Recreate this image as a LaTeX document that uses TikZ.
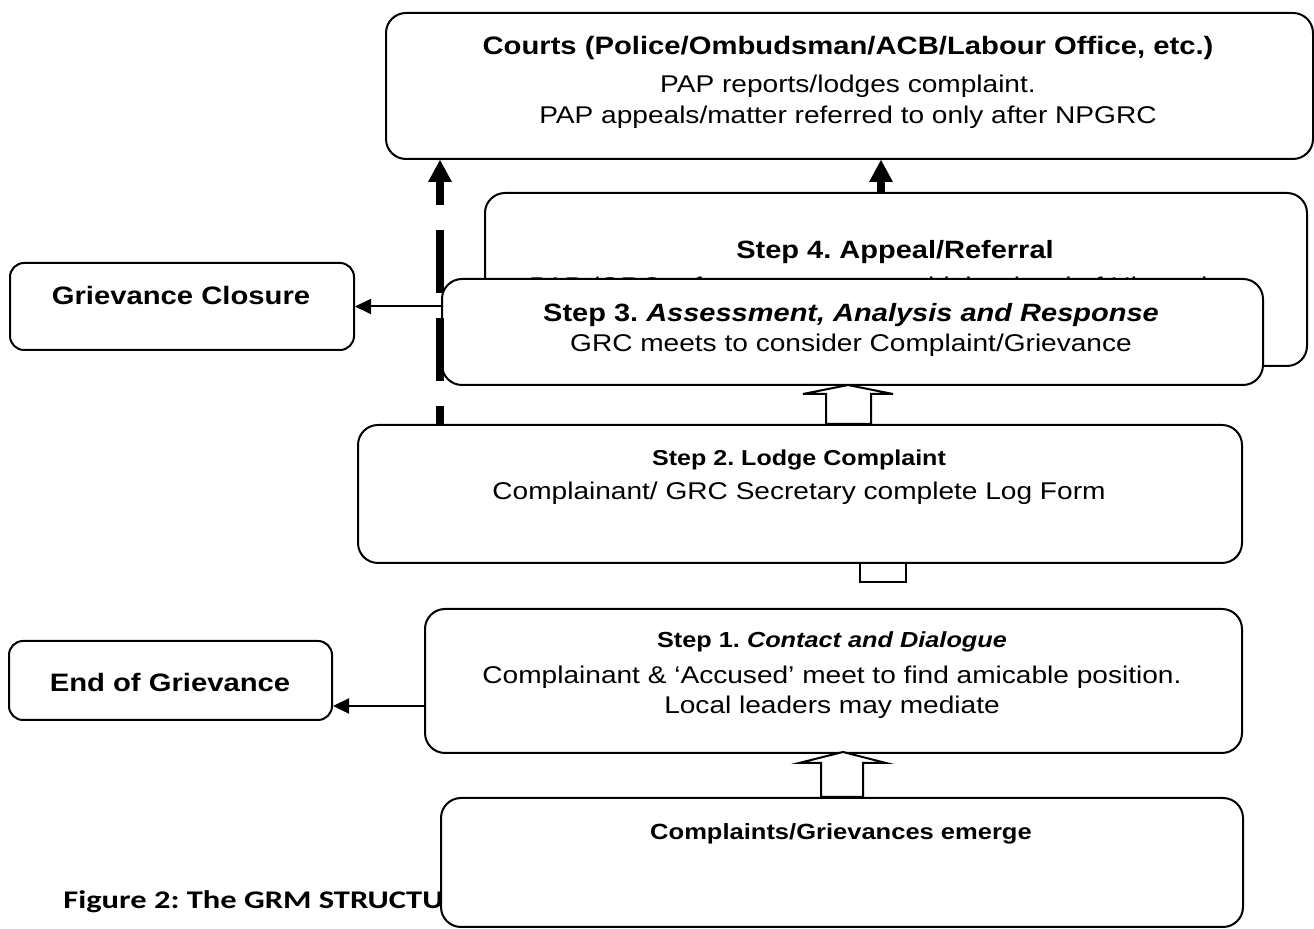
\documentclass[tikz,border=0pt]{standalone}
\usepackage{fontspec}
\setmainfont[FakeStretch=1.16]{Liberation Sans}
\newfontfamily\capfont[FakeStretch=1.28]{Carlito}
\usetikzlibrary{arrows.meta,calc}
\frenchspacing

\newcommand{\fs}[1]{\fontsize{#1}{#1}\selectfont}

\tikzset{
  box/.style={draw, line width=1pt, fill=white, rounded corners=10pt,
    inner sep=0pt, anchor=north west},
  smallbox/.style={box, rounded corners=7pt},
  ttl/.style={font=\fs{12.5}\bfseries, anchor=base, inner sep=0pt},
  txt/.style={font=\fs{12.1}, anchor=base, inner sep=0pt},
  thinarrow/.style={line width=1pt, -{Triangle[length=8pt,width=7.5pt]}},
  thickarrow/.style={line width=4pt, -{Triangle[length=11pt,width=12pt,line width=0pt]}},
  dasharrow/.style={thickarrow, dash pattern=on 31.5pt off 12.5pt, dash phase=22.5pt},
  blockarrow/.style={draw, line width=1pt, fill=white, line join=miter},
}

\begin{document}
\begin{tikzpicture}[x=0.5pt, y=-0.5pt]
\useasboundingbox (0,0) rectangle (1314,929);

% caption, partly hidden by the bottom box
\node[font=\capfont\fs{12.7}\bfseries, anchor=base west, inner sep=0pt]
  (caption) at (63,909) {Figure 2: The GRM STRUCTURE};

% top level: courts
\node[box, minimum width=463.5pt, minimum height=73pt] (courts) at (385,12) {};
\node[ttl, font=\fs{12.6}\bfseries] (courtsT) at (848,55) {Courts (Police/Ombudsman/ACB/Labour Office, etc.)};
\node[txt] (courtsA) at (848,93) {PAP reports/lodges complaint.};
\node[txt] (courtsB) at (848,124) {PAP appeals/matter referred to only after NPGRC};

% step 4 (second line mostly hidden behind step 3)
\node[box, minimum width=411pt, minimum height=86.5pt] (step4) at (484,192) {};
\node[ttl] (step4T) at (895,259) {Step 4. Appeal/Referral};
\node[txt] (step4A) at (880,295) {PAP /GRC refers matter to next higher level of Hierarchy};

% step 3 (overlaps step 4)
\node[box, minimum width=410.5pt, minimum height=53pt] (step3) at (441,278) {};
\node[ttl] (step3T) at (851,322) {Step 3. \textit{Assessment, Analysis and Response}};
\node[txt] (step3A) at (851,352) {GRC meets to consider Complaint/Grievance};

% block arrow step 1 -> step 2 (head hidden behind step 2)
\draw[blockarrow] (860,582) -- (860,520) -- (906,520) -- (906,582) -- cycle;

% step 2
\node[box, minimum width=442pt, minimum height=69pt] (step2) at (357,424) {};
\node[ttl, font=\fs{10.8}\bfseries] (step2T) at (799,466) {Step 2. Lodge Complaint};
\node[txt] (step2A) at (799,500) {Complainant/ GRC Secretary complete Log Form};

% step 1
\node[box, minimum width=408.5pt, minimum height=72pt] (step1) at (424,608) {};
\node[ttl, font=\fs{10.9}\bfseries] (step1T) at (832,648) {Step 1. \textit{Contact and Dialogue}};
\node[txt] (step1A) at (832,684) {Complainant \& `Accused' meet to find amicable position.};
\node[txt] (step1B) at (832,714) {Local leaders may mediate};

% entry box
\node[box, minimum width=401pt, minimum height=64.5pt] (emerge) at (440,797) {};
\node[ttl, font=\fs{11}\bfseries] (emergeT) at (841,840) {Complaints/Grievances emerge};

% side boxes
\node[smallbox, minimum width=172pt, minimum height=43.5pt] (closure) at (9,262) {};
\node[ttl, font=\fs{12.6}\bfseries] (closureT) at (181,305) {Grievance Closure};
\node[smallbox, minimum width=161.5pt, minimum height=39.5pt] (endg) at (8,640) {};
\node[ttl, font=\fs{12.6}\bfseries] (endgT) at (170,692) {End of Grievance};

% hollow block arrows
\draw[blockarrow] (emerge.north -| 821,0) -- (821,763) -- (799,763) -- (843,752)
  -- (886,763) -- (863,763) -- (emerge.north -| 863,0) -- cycle;
\draw[blockarrow] (step2.north -| 826,0) -- (826,394) -- (803,394) -- (848,385)
  -- (893,394) -- (871,394) -- (step2.north -| 871,0) -- cycle;

% thin side arrows
\coordinate (c3) at (step3.west |- closure.east);
\draw[thinarrow] (c3) -- (closure.east);
\coordinate (c1) at ([yshift=-12.5pt]step1.west);
\draw[thinarrow] (c1) -- (c1 -| endg.east);

% thick arrows to the courts
\coordinate (d0) at (step2.north -| 440,0);
\draw[dasharrow] (d0) -- (d0 |- courts.south);
\coordinate (s0) at (step4.north -| 881,0);
\draw[thickarrow] (s0) -- (s0 |- courts.south);
\end{tikzpicture}
\end{document}
